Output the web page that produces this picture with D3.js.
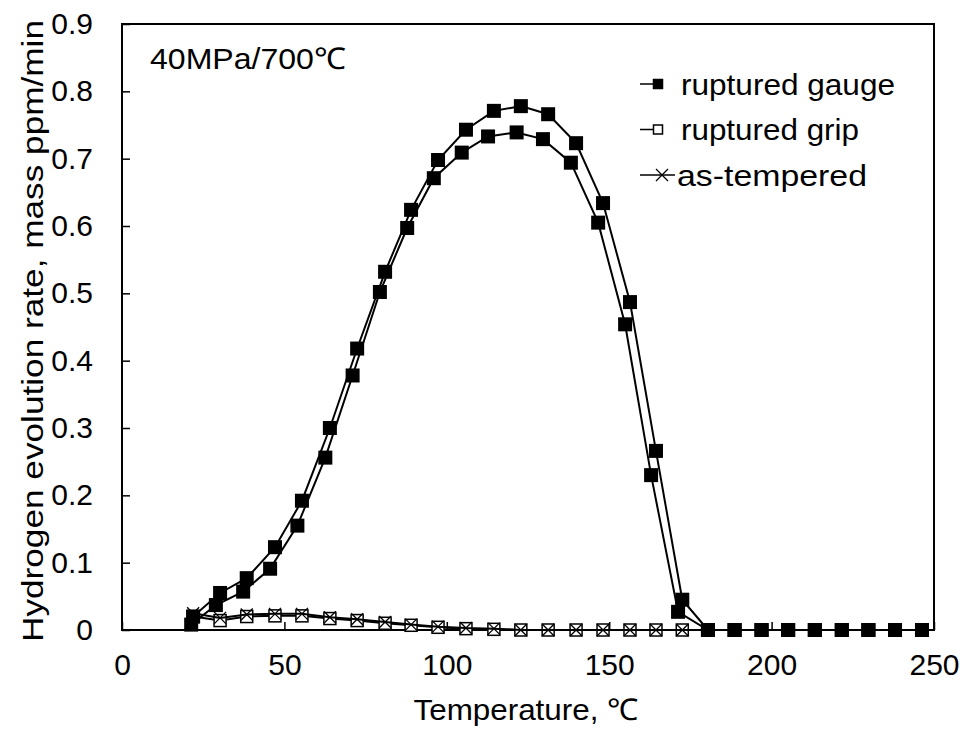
<!DOCTYPE html>
<html>
<head>
<meta charset="utf-8">
<script src="https://cdn.jsdelivr.net/npm/d3@7"></script>
<style>
  body { margin: 0; background: #fff; overflow: hidden; }
  svg { display: block; }
  text { font-family: "Liberation Sans", Arial, sans-serif; fill: #000; }
</style>
</head>
<body>
<svg width="968" height="735"></svg>
<script>
// temperatures (°C)
const temps = [21.9, 30.2, 38.4, 47.1, 55.4, 64.0, 72.4, 81.0, 89.0, 97.3, 105.9, 114.5,
  122.8, 131.2, 139.8, 148.1, 156.4, 164.4, 172.5, 180.4, 188.6, 196.9, 205.1, 213.3,
  221.6, 229.8, 238.0, 246.3];
const temps2 = [21.3, 28.9, 37.3, 45.6, 54.0, 62.6, 71.0, 79.4, 87.8, 96.0, 104.6, 112.7,
  121.5, 129.6, 138.2, 146.6, 154.9, 162.9, 171.2, 180.4, 188.6, 196.9, 205.1, 213.3,
  221.6, 229.8, 238.0, 246.3];

const gauge1 = [0.020, 0.055, 0.077, 0.123, 0.192, 0.300, 0.418, 0.532, 0.624, 0.698, 0.743, 0.771,
  0.778, 0.766, 0.723, 0.634, 0.487, 0.266, 0.045, 0, 0, 0, 0, 0, 0, 0, 0, 0];
const gauge2 = [0.008, 0.037, 0.057, 0.091, 0.155, 0.256, 0.378, 0.502, 0.597, 0.671, 0.709, 0.733,
  0.739, 0.729, 0.694, 0.605, 0.454, 0.230, 0.027, 0, 0, 0, 0, 0, 0, 0, 0, 0];
const grip = [0.020, 0.014, 0.020, 0.021, 0.021, 0.017, 0.014, 0.010, 0.007, 0.004, 0.002, 0.001,
  0, 0, 0, 0, 0, 0, 0, 0, 0, 0, 0, 0, 0, 0, 0, 0];
const asTempered = [0.025, 0.018, 0.023, 0.024, 0.024, 0.019, 0.016, 0.012, 0.008, 0.005, 0.003, 0.002,
  0, 0, 0, 0, 0, 0, 0, 0, 0, 0, 0, 0, 0, 0, 0, 0];

const xTicks = [0, 50, 100, 150, 200, 250];
const yTicks = [0, 0.1, 0.2, 0.3, 0.4, 0.5, 0.6, 0.7, 0.8, 0.9];
const legendNames = ['ruptured gauge', 'ruptured grip', 'as-tempered'];

const svg = d3.select('svg');
const margin = {top: 24, right: 34, bottom: 105, left: 122};
const width = +svg.attr('width');
const height = +svg.attr('height');
const innerWidth = width - margin.left - margin.right;
const innerHeight = height - margin.top - margin.bottom;

const x = d3.scaleLinear().domain([0, 250]).range([0, innerWidth]);
const y = d3.scaleLinear().domain([0, 0.9]).range([innerHeight, 0]);

const g = svg.append('g').attr('transform', `translate(${margin.left},${margin.top})`);

// axes, ticks pointing inward
const xAxis = g.append('g').attr('transform', `translate(0,${innerHeight})`)
  .call(d3.axisBottom(x).tickValues(xTicks).tickSizeInner(-8).tickSizeOuter(0).tickPadding(24));
const yAxis = g.append('g')
  .call(d3.axisLeft(y).tickValues(yTicks).tickSizeInner(-8).tickSizeOuter(0).tickPadding(29)
    .tickFormat(d => d === 0 ? '0' : d3.format('.1f')(d)));
[xAxis, yAxis].forEach(a => {
  a.select('.domain').remove();
  a.selectAll('line').attr('stroke', '#000').attr('stroke-width', 1.5);
  a.selectAll('text').style('font-size', '30px').attr('fill', '#000');
});

// frame
g.append('rect').attr('width', innerWidth).attr('height', innerHeight)
  .attr('fill', 'none').attr('stroke', '#000').attr('stroke-width', 2);

const line = d3.line().x(d => x(d[0])).y(d => y(d[1]));

function drawSeries(ts, vals, kind) {
  const pts = ts.map((t, i) => [t, vals[i]]);
  g.append('path').datum(pts).attr('d', line)
    .attr('fill', 'none').attr('stroke', '#000').attr('stroke-width', 2);
  drawMarkers(g, pts.map(p => [x(p[0]), y(p[1])]), kind, 1);
}

function drawMarkers(sel, pts, kind, k) {
  pts.forEach(([px, py]) => {
    if (kind === 'filled') {
      const s = 7 * k;
      sel.append('rect').attr('x', px - s).attr('y', py - s).attr('width', 2 * s).attr('height', 2 * s)
        .attr('fill', '#000');
    } else if (kind === 'open') {
      const s = 6 * k;
      sel.append('rect').attr('x', px - s).attr('y', py - s).attr('width', 2 * s).attr('height', 2 * s)
        .attr('fill', '#fff').attr('stroke', '#000').attr('stroke-width', 1.5);
    } else {
      const s = 6 * k;
      sel.append('path').attr('d', `M${px - s},${py - s}L${px + s},${py + s}M${px - s},${py + s}L${px + s},${py - s}`)
        .attr('stroke', '#000').attr('stroke-width', 1.3);
    }
  });
}

drawSeries(temps, grip, 'open');
drawSeries(temps, asTempered, 'cross');
drawSeries(temps2, gauge2, 'filled');
drawSeries(temps, gauge1, 'filled');

// legend
const kinds = ['filled', 'open', 'cross'];
const legendLen = [214, 178, 190];
legendNames.forEach((name, i) => {
  const ly = 60 + i * 45.5;
  const lg = g.append('g');
  const cross = kinds[i] === 'cross';
  lg.append('line').attr('x1', 518).attr('x2', cross ? 553 : 531).attr('y1', ly).attr('y2', ly)
    .attr('stroke', '#000').attr('stroke-width', 1.5);
  drawMarkers(lg, [[cross ? 540 : 536, ly]], kinds[i], cross ? 1 : 0.75);
  lg.append('text').attr('x', cross ? 555 : 559).attr('y', ly).attr('dy', '0.36em')
    .attr('textLength', legendLen[i]).attr('lengthAdjust', 'spacingAndGlyphs')
    .style('font-size', '30px').text(name);
});

// condition label
g.append('text').attr('x', 28).attr('y', 45)
  .attr('textLength', 196).attr('lengthAdjust', 'spacingAndGlyphs')
  .style('font-size', '30px').text('40MPa/700℃');

// axis titles
svg.append('text').attr('x', margin.left + innerWidth / 2 - 2).attr('y', 720)
  .attr('text-anchor', 'middle')
  .attr('textLength', 225).attr('lengthAdjust', 'spacingAndGlyphs')
  .style('font-size', '30px').text('Temperature, ℃');
svg.append('text').attr('transform', `translate(43,${margin.top + innerHeight / 2 + 4}) rotate(-90)`)
  .attr('text-anchor', 'middle')
  .attr('textLength', 622).attr('lengthAdjust', 'spacingAndGlyphs')
  .style('font-size', '30px').text('Hydrogen evolution rate, mass ppm/min');
</script>
</body>
</html>
